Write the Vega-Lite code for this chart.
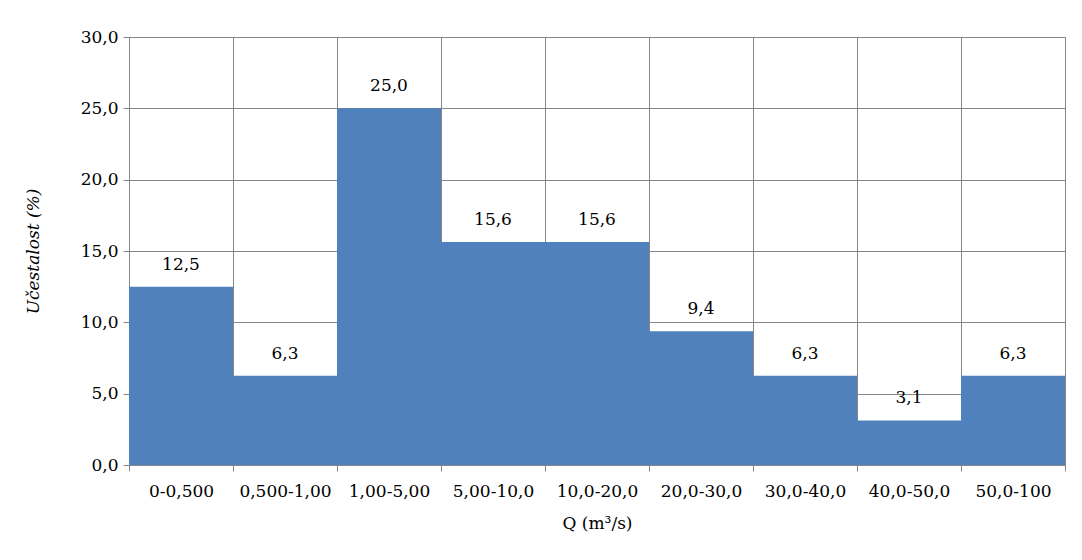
{
  "$schema": "https://vega.github.io/schema/vega-lite/v6.json",
  "width": 936,
  "height": 428,
  "autosize": "none",
  "padding": {"left": 129, "top": 37, "right": 17, "bottom": 95},
  "background": "white",
  "config": {
    "font": "DejaVu Serif",
    "locale": {"number": {"decimal": ",", "thousands": ".", "grouping": [3], "currency": ["", ""]}},
    "view": {"stroke": "#868686", "strokeWidth": 1}
  },
  "data": {
    "values": [
      {"Q": "0-0,500", "pct": 12.5},
      {"Q": "0,500-1,00", "pct": 6.25},
      {"Q": "1,00-5,00", "pct": 25.0},
      {"Q": "5,00-10,0", "pct": 15.625},
      {"Q": "10,0-20,0", "pct": 15.625},
      {"Q": "20,0-30,0", "pct": 9.375},
      {"Q": "30,0-40,0", "pct": 6.25},
      {"Q": "40,0-50,0", "pct": 3.125},
      {"Q": "50,0-100", "pct": 6.25}
    ]
  },
  "encoding": {
    "x": {
      "field": "Q", "type": "nominal", "sort": null,
      "scale": {"paddingInner": 0, "paddingOuter": 0},
      "axis": {
        "tickBand": "extent", "grid": true, "gridColor": "#868686", "gridOpacity": 1,
        "domainColor": "#868686", "tickColor": "#868686", "tickSize": 6,
        "labelAngle": 0, "labelFontSize": 17, "labelColor": "black", "labelPadding": 12,
        "labelFont": "DejaVu Serif",
        "title": "Q (m³/s)", "titleFont": "DejaVu Serif", "titleFontSize": 17, "titleFontWeight": "normal", "titleColor": "black", "titlePadding": 16
      }
    },
    "y": {
      "field": "pct", "type": "quantitative",
      "scale": {"domain": [0, 30]},
      "axis": {
        "values": [0, 5, 10, 15, 20, 25, 30], "format": ".1f",
        "grid": true, "gridColor": "#868686", "gridOpacity": 1,
        "domainColor": "#868686", "tickColor": "#868686", "tickSize": 6,
        "labelFont": "DejaVu Serif",
        "labelFontSize": 17, "labelColor": "black", "labelPadding": 5,
        "title": "Učestalost (%)", "titleFont": "DejaVu Serif", "titleFontSize": 17, "titleFontWeight": "normal", "titleFontStyle": "italic", "titleColor": "black", "titlePadding": 38
      }
    }
  },
  "layer": [
    {"mark": {"type": "bar", "color": "#4F81BD"}},
    {
      "mark": {"type": "text", "dy": -22, "baseline": "middle", "fontSize": 17, "color": "black", "font": "DejaVu Serif"},
      "encoding": {"text": {"field": "pct", "type": "quantitative", "format": ".1f"}}
    }
  ]
}
